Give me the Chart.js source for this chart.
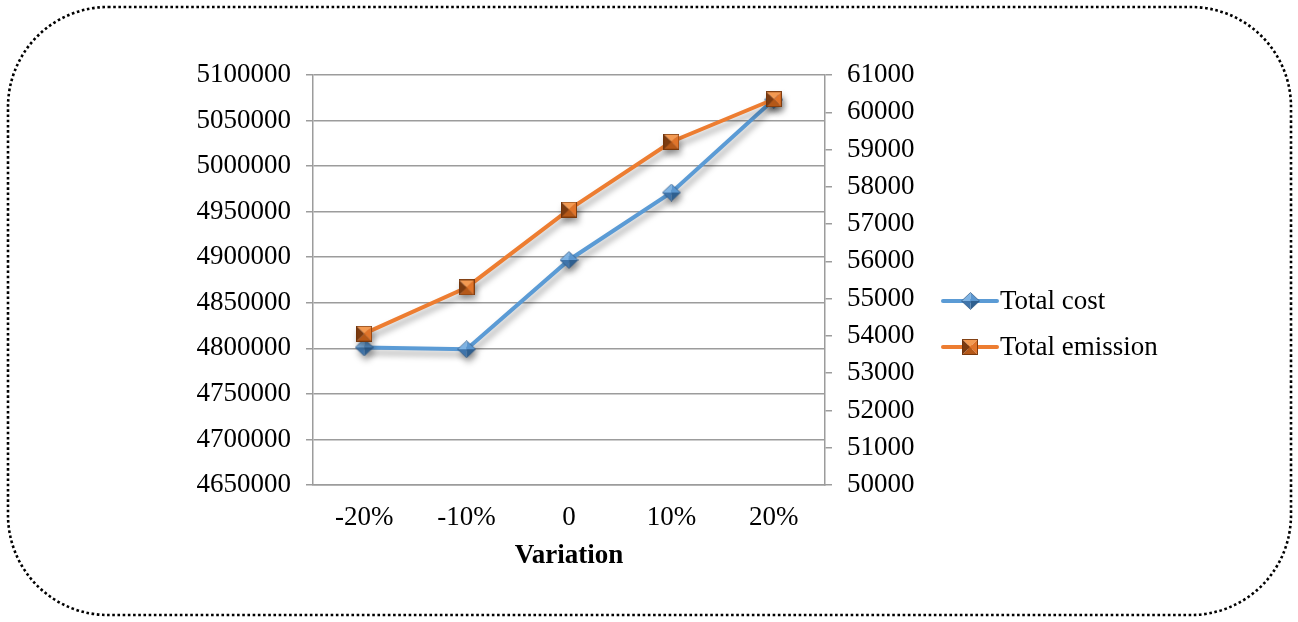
<!DOCTYPE html>
<html>
<head>
<meta charset="utf-8">
<script src="https://cdn.jsdelivr.net/npm/chart.js@4.4.1/dist/chart.umd.min.js"></script>
<style>
  html, body { margin: 0; padding: 0; background: #ffffff; }
  #wrap { width: 1298px; height: 622px; position: relative; }
  canvas { display: block; }
</style>
</head>
<body>
<div id="wrap"><canvas id="chart" width="1298" height="622"></canvas></div>
<script>
// Sensitivity of total cost and total emission to the parameter variation
const categories = ['-20%', '-10%', '0', '10%', '20%'];
const totalCost = [4801000, 4799000, 4897000, 4971000, 5073000];
const totalEmission = [54060, 55300, 57390, 59210, 60350];

const costTicks = { min: 4650000, max: 5100000, step: 50000 };
const emissionTicks = { min: 50000, max: 61000, step: 1000 };

const FONT = '"Liberation Serif", "Times New Roman", Times, serif';
const FONT_SIZE = 27;
const GRID = '#9c9c9c';

// Beveled marker images (pyramid-style facets)
function diamondMarker() {
  const w = 19, h = 18, c = document.createElement('canvas');
  c.width = w; c.height = h;
  const g = c.getContext('2d');
  const cx = w / 2, cy = h / 2;
  const T = [cx, 0.5], R = [w - 0.5, cy], B = [cx, h - 0.5], L = [0.5, cy], C = [cx, cy];
  const tri = (p, q, col) => {
    g.beginPath(); g.moveTo(C[0], C[1]); g.lineTo(p[0], p[1]); g.lineTo(q[0], q[1]); g.closePath();
    g.fillStyle = col; g.fill();
  };
  tri(L, T, '#7fb3e3');
  tri(T, R, '#5b96cf');
  tri(R, B, '#2f5f8f');
  tri(B, L, '#3f74aa');
  g.beginPath(); g.moveTo(T[0], T[1]); g.lineTo(R[0], R[1]); g.lineTo(B[0], B[1]); g.lineTo(L[0], L[1]); g.closePath();
  g.strokeStyle = 'rgba(40,80,125,0.8)'; g.lineWidth = 0.8; g.stroke();
  return c;
}

function squareMarker() {
  const s = 16, c = document.createElement('canvas');
  c.width = s; c.height = s;
  const g = c.getContext('2d');
  const C = [s / 2, s / 2];
  const TL = [0, 0], TR = [s, 0], BR = [s, s], BL = [0, s];
  const tri = (p, q, col) => {
    g.beginPath(); g.moveTo(C[0], C[1]); g.lineTo(p[0], p[1]); g.lineTo(q[0], q[1]); g.closePath();
    g.fillStyle = col; g.fill();
  };
  tri(TL, TR, '#f39a52');
  tri(TR, BR, '#e0742a');
  tri(BR, BL, '#b55818');
  tri(BL, TL, '#7c3b10');
  g.strokeStyle = 'rgba(110,50,10,0.85)'; g.lineWidth = 1; g.strokeRect(0.5, 0.5, s - 1, s - 1);
  return c;
}

const costMarker = diamondMarker();
const emissionMarker = squareMarker();

// Soft drop shadow under each series
const shadowPlugin = {
  id: 'seriesShadow',
  beforeDatasetDraw(chart) {
    const ctx = chart.ctx;
    ctx.save();
    ctx.shadowColor = 'rgba(0,0,0,0.35)';
    ctx.shadowBlur = 6;
    ctx.shadowOffsetX = 2;
    ctx.shadowOffsetY = 5;
  },
  afterDatasetDraw(chart) {
    chart.ctx.restore();
  }
};

// Dotted rounded frame around the whole figure
const framePlugin = {
  id: 'dottedFrame',
  afterDraw(chart) {
    const ctx = chart.ctx;
    ctx.save();
    ctx.strokeStyle = '#000';
    ctx.lineWidth = 2.6;
    ctx.setLineDash([2.6, 2.6]);
    ctx.beginPath();
    ctx.roundRect(8, 7, 1283, 608, 100);
    ctx.stroke();
    ctx.restore();
  }
};

// Legend: line segment with marker, then the series name
const legendPlugin = {
  id: 'sideLegend',
  afterDraw(chart) {
    const ctx = chart.ctx;
    const x0 = 943, len = 54, rowY = [301, 347];
    chart.data.datasets.forEach((ds, i) => {
      const y = rowY[i];
      ctx.save();
      ctx.strokeStyle = ds.borderColor;
      ctx.lineWidth = 4;
      ctx.lineCap = 'round';
      ctx.beginPath(); ctx.moveTo(x0, y); ctx.lineTo(x0 + len, y); ctx.stroke();
      const img = ds.pointStyle;
      ctx.drawImage(img, Math.round(x0 + len / 2 - img.width / 2), Math.round(y - img.height / 2));
      ctx.fillStyle = '#000';
      ctx.font = FONT_SIZE + 'px ' + FONT;
      ctx.textBaseline = 'middle';
      ctx.fillText(ds.label, x0 + len + 3, y + 1);
      ctx.restore();
    });
  }
};

new Chart(document.getElementById('chart'), {
  type: 'line',
  data: {
    labels: categories,
    datasets: [
      {
        label: 'Total cost',
        data: totalCost,
        yAxisID: 'y',
        borderColor: '#5b9bd5',
        backgroundColor: '#5b9bd5',
        borderWidth: 4,
        pointStyle: costMarker,
        order: 1,
        tension: 0
      },
      {
        label: 'Total emission',
        data: totalEmission,
        yAxisID: 'y1',
        borderColor: '#ed7d31',
        backgroundColor: '#ed7d31',
        borderWidth: 4,
        pointStyle: emissionMarker,
        order: 0,
        tension: 0
      }
    ]
  },
  options: {
    responsive: false,
    animation: false,
    layout: { padding: { top: 75, right: 373, bottom: 0, left: 0 } },
    plugins: {
      legend: { display: false },
      tooltip: { enabled: false }
    },
    scales: {
      x: {
        offset: true,
        grid: { display: false, drawTicks: false },
        border: { display: true, color: GRID, width: 1.5 },
        ticks: { color: '#000', font: { family: FONT, size: FONT_SIZE }, padding: 17, maxRotation: 0 },
        title: {
          display: true,
          text: 'Variation',
          color: '#000',
          font: { family: FONT, size: 27, weight: 'bold' },
          padding: { top: 0, bottom: 50 }
        },
        afterFit(scale) { scale.height = 137; }
      },
      y: {
        position: 'left',
        min: costTicks.min,
        max: costTicks.max,
        grid: { color: GRID, lineWidth: 1.5, tickLength: 7, drawTicks: true },
        border: { display: true, color: GRID, width: 1.5 },
        ticks: {
          stepSize: costTicks.step,
          color: '#000',
          padding: 15,
          font: { family: FONT, size: FONT_SIZE },
          callback: v => String(v)
        },
        afterFit(scale) { scale.width = 313; }
      },
      y1: {
        position: 'right',
        min: emissionTicks.min,
        max: emissionTicks.max,
        grid: { drawOnChartArea: false, color: GRID, lineWidth: 1.5, tickLength: 7, drawTicks: true },
        border: { display: true, color: GRID, width: 1.5 },
        ticks: {
          stepSize: emissionTicks.step,
          color: '#000',
          padding: 15,
          font: { family: FONT, size: FONT_SIZE },
          callback: v => String(v)
        },
        afterFit(scale) { scale.width = 100; }
      }
    }
  },
  plugins: [shadowPlugin, legendPlugin, framePlugin]
});
</script>
</body>
</html>
